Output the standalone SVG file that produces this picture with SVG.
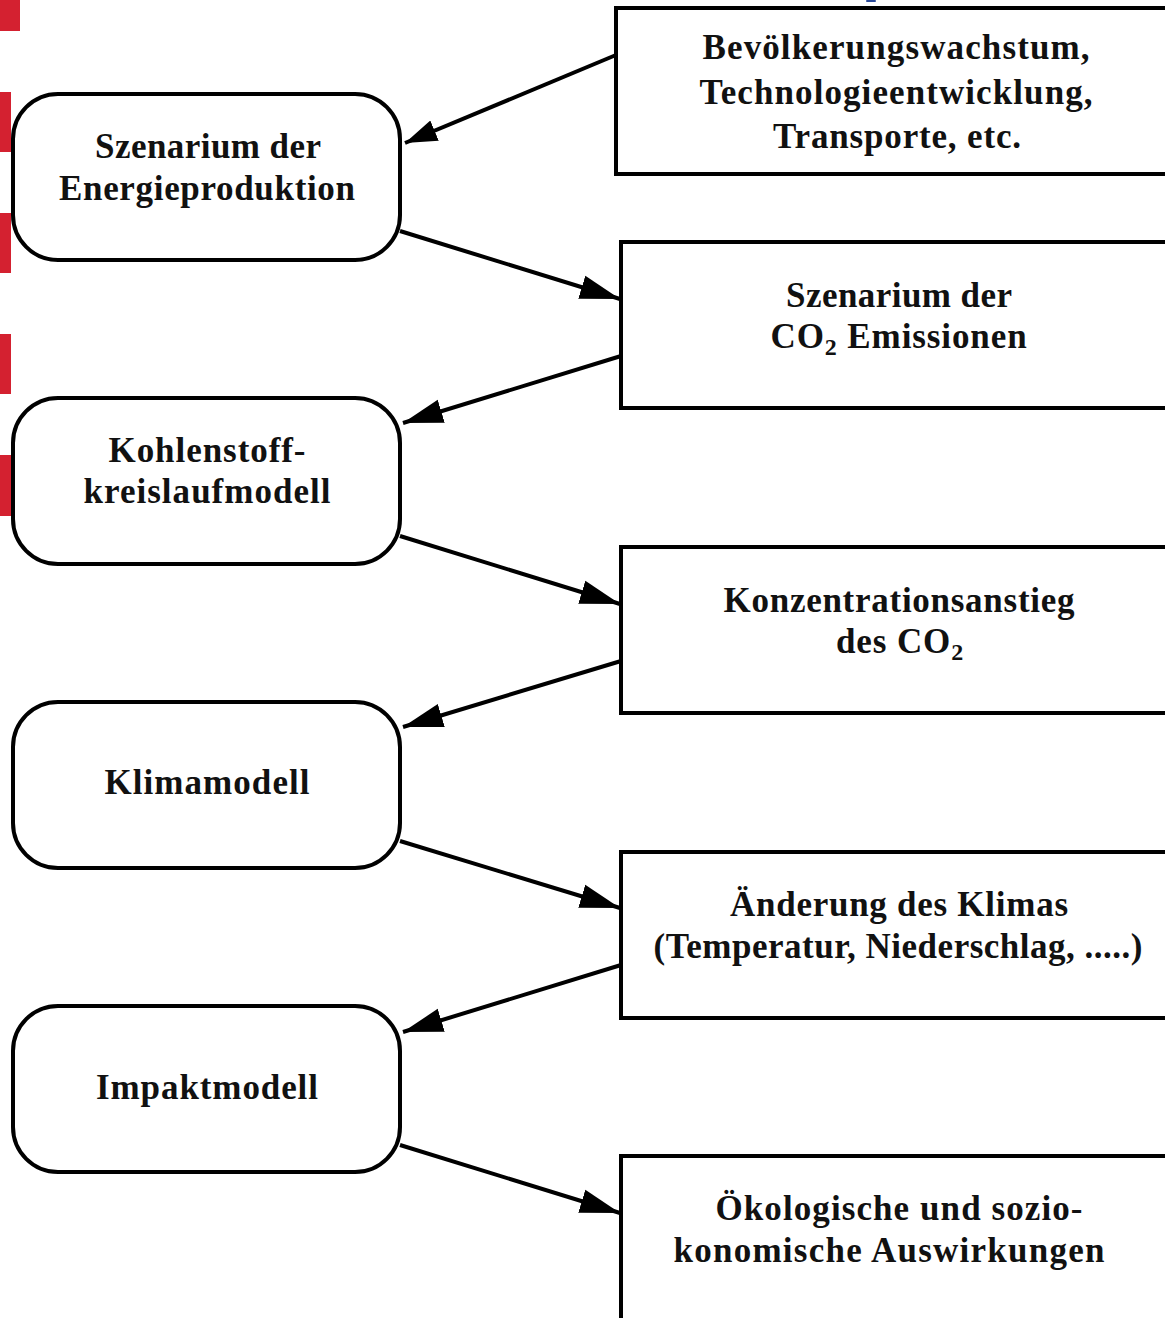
<svg xmlns="http://www.w3.org/2000/svg" width="1165" height="1318" viewBox="0 0 1165 1318">
<defs>
<style>
.rbox{fill:#fff;stroke:#000;stroke-width:4}
.sbox{fill:#fff;stroke:#000;stroke-width:4}
.t{font-family:"Liberation Serif","Times New Roman",serif;font-weight:bold;font-size:35px;fill:#111;text-anchor:middle}
.sp{letter-spacing:0.9px}
.sub{font-size:24px}
.con{stroke:#000;stroke-width:4;fill:none}
.mark{fill:#d42130}
</style>
<marker id="ah" markerUnits="userSpaceOnUse" markerWidth="42" markerHeight="26" refX="40" refY="13" orient="auto" viewBox="0 0 42 26">
<path d="M0,1 L40,13 L0,25 z" fill="#000"/>
</marker>
<marker id="ahs" markerUnits="userSpaceOnUse" markerWidth="34" markerHeight="24" refX="32" refY="12" orient="auto" viewBox="0 0 34 24">
<path d="M0,1 L32,12 L0,23 z" fill="#000"/>
</marker>
</defs>

<g id="marks">
<rect class="mark" x="0" y="0" width="20" height="31"/>
<rect class="mark" x="0" y="92" width="11" height="60"/>
<rect class="mark" x="0" y="213" width="11" height="60"/>
<rect class="mark" x="0" y="334" width="11" height="60"/>
<rect class="mark" x="0" y="455" width="11" height="61"/>
<rect x="866" y="0" width="10" height="2" rx="1" fill="#2a4a9a"/>
</g>

<g id="connectors">
<line class="con" x1="616" y1="55" x2="405" y2="143" marker-end="url(#ahs)"/>
<line class="con" x1="400" y1="231" x2="620" y2="299" marker-end="url(#ah)"/>
<line class="con" x1="621" y1="356" x2="403" y2="423" marker-end="url(#ah)"/>
<line class="con" x1="400" y1="536" x2="620" y2="604" marker-end="url(#ah)"/>
<line class="con" x1="621" y1="661" x2="403" y2="727" marker-end="url(#ah)"/>
<line class="con" x1="400" y1="841" x2="620" y2="908" marker-end="url(#ah)"/>
<line class="con" x1="621" y1="965" x2="403" y2="1032" marker-end="url(#ah)"/>
<line class="con" x1="400" y1="1145" x2="620" y2="1213" marker-end="url(#ah)"/>
</g>

<g id="n-energie">
<rect class="rbox" x="13" y="94" width="387" height="166" rx="45"/>
<text class="t" x="208" y="158" textLength="226">Szenarium der</text>
<text class="t" x="207" y="200" textLength="296">Energieproduktion</text>
</g>

<g id="n-kohlenstoff">
<rect class="rbox" x="13" y="398" width="387" height="166" rx="45"/>
<text class="t" x="207" y="462" textLength="197">Kohlenstoff-</text>
<text class="t" x="207" y="503" textLength="247">kreislaufmodell</text>
</g>

<g id="n-klima">
<rect class="rbox" x="13" y="702" width="387" height="166" rx="45"/>
<text class="t" x="207" y="794" textLength="205">Klimamodell</text>
</g>

<g id="n-impakt">
<rect class="rbox" x="13" y="1006" width="387" height="166" rx="45"/>
<text class="t" x="207" y="1099" textLength="222">Impaktmodell</text>
</g>

<g id="n-treiber">
<rect class="sbox" x="616" y="8" width="570" height="166"/>
<text class="t" x="896" y="59" textLength="387">Bevölkerungswachstum,</text>
<text class="t" x="896" y="104" textLength="393">Technologieentwicklung,</text>
<text class="t" x="897" y="148" textLength="248">Transporte, etc.</text>
</g>

<g id="n-emission">
<rect class="sbox" x="621" y="242" width="565" height="166"/>
<text class="t" x="899" y="307" textLength="226">Szenarium der</text>
<text class="t sp" x="899" y="348">CO<tspan class="sub" dy="7">2</tspan><tspan dy="-7"> Emissionen</tspan></text>
</g>

<g id="n-konzentration">
<rect class="sbox" x="621" y="547" width="565" height="166"/>
<text class="t" x="899" y="612" textLength="351">Konzentrationsanstieg</text>
<text class="t sp" x="900" y="653">des CO<tspan class="sub" dy="7">2</tspan></text>
</g>

<g id="n-aenderung">
<rect class="sbox" x="621" y="852" width="565" height="166"/>
<text class="t" x="899" y="916" textLength="338">Änderung des Klimas</text>
<text class="t" x="898" y="958" textLength="489">(Temperatur, Niederschlag, .....)</text>
</g>

<g id="n-auswirkungen">
<rect class="sbox" x="621" y="1156" width="565" height="190"/>
<text class="t" x="899" y="1220" textLength="367">Ökologische und sozio-</text>
<text class="t" x="889" y="1262" textLength="431">konomische Auswirkungen</text>
</g>
</svg>
